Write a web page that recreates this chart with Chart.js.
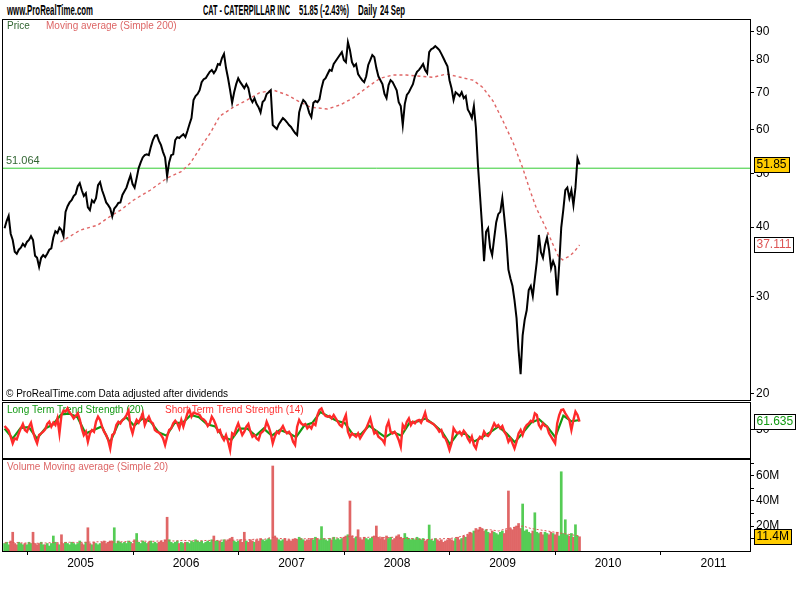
<!DOCTYPE html>
<html>
<head>
<meta charset="utf-8">
<script src="https://cdn.jsdelivr.net/npm/chart.js@4.4.0/dist/chart.umd.min.js"></script>
<style>
  body { margin: 0; background: #fff; }
  #page { position: relative; width: 800px; height: 600px; overflow: hidden; background: #fff; }
  canvas { position: absolute; left: 0; }
  .hd { position: absolute; top: 2px; font: bold 14px "Liberation Sans Narrow", "Liberation Sans", Arial, sans-serif;
        color: #000; white-space: pre; display: inline-block; transform-origin: 0 0; }
</style>
</head>
<body>
<div id="page">
  <span class="hd" style="left:7px" data-w="86">www.ProRealTime.com</span>
  <span class="hd" style="left:203px" data-w="87">CAT - CATERPILLAR INC</span>
  <span class="hd" style="left:299px" data-w="50">51.85 (-2.43%)</span>
  <span class="hd" style="left:358px" data-w="19">Daily</span>
  <span class="hd" style="left:380px" data-w="25">24 Sep</span>
  <canvas id="priceChart" width="800" height="402" style="top:0"></canvas>
  <canvas id="trendChart" width="800" height="62" style="top:400px"></canvas>
  <canvas id="volumeChart" width="800" height="145" style="top:455px"></canvas>
</div>
<script>
// ---- data (weekly readings, CAT, May 2004 - 24 Sep 2009) ----
var firstDay = 2004.28;
var lastDay = 2009.73;

var closePrices = [
  39.8, 41.0, 41.9, 38.9, 37.9, 36.1, 35.8, 36.4, 36.7, 37.3,
  36.9, 37.6, 37.9, 38.5, 37.9, 35.5, 35.2, 33.9, 35.2, 35.6,
  35.3, 35.8, 36.4, 36.6, 38.3, 39.3, 39.0, 39.9, 39.5, 38.5,
  42.6, 43.6, 44.3, 44.7, 45.5, 45.9, 47.4, 48.0, 46.6, 45.5,
  46.0, 43.4, 42.9, 44.7, 44.3, 45.1, 47.6, 48.2, 46.6, 45.5,
  44.3, 43.8, 43.2, 41.8, 43.2, 43.6, 44.2, 44.3, 45.7, 46.4,
  47.1, 48.4, 49.6, 47.8, 47.1, 49.0, 51.1, 52.3, 53.4, 53.9,
  54.1, 53.9, 55.8, 57.4, 58.4, 58.6, 57.2, 56.2, 54.6, 53.4,
  49.4, 52.3, 53.9, 54.1, 57.4, 58.1, 57.9, 58.4, 58.8, 58.1,
  59.6, 61.3, 62.9, 67.8, 68.9, 69.5, 70.6, 73.0, 73.9, 74.2,
  75.2, 76.2, 76.8, 75.8, 76.8, 78.7, 78.4, 80.7, 82.1, 77.4,
  74.2, 70.6, 67.0, 70.0, 72.4, 74.2, 73.0, 72.1, 71.2, 72.4,
  71.2, 68.3, 67.2, 68.3, 66.7, 65.8, 64.4, 67.2, 67.8, 69.5,
  70.0, 70.6, 61.1, 60.6, 60.1, 61.3, 62.1, 62.9, 62.4, 61.8,
  61.1, 60.6, 59.8, 59.1, 58.6, 64.4, 66.4, 67.8, 67.2, 66.1,
  64.2, 63.1, 67.0, 67.5, 67.2, 68.0, 71.2, 73.6, 74.2, 75.5,
  76.8, 76.5, 78.7, 79.7, 80.7, 81.7, 82.7, 80.0, 79.3, 86.2,
  83.4, 79.3, 78.0, 78.7, 75.5, 74.5, 73.6, 73.0, 74.8, 78.4,
  80.0, 81.7, 81.0, 77.4, 74.8, 73.6, 72.4, 69.5, 68.3, 72.1,
  73.6, 73.0, 71.8, 70.6, 67.2, 66.1, 61.1, 66.7, 69.2, 70.0,
  71.2, 72.4, 74.8, 76.2, 76.8, 77.7, 78.7, 76.8, 75.8, 82.7,
  83.7, 84.1, 84.8, 84.1, 83.4, 82.1, 80.7, 79.3, 78.0, 73.6,
  71.2, 67.8, 70.0, 69.5, 68.9, 70.0, 68.3, 68.9, 65.2, 64.2,
  62.9, 66.1, 60.4, 51.7, 45.7, 40.3, 34.7, 39.2, 39.8, 36.7,
  35.6, 38.2, 40.8, 42.2, 42.6, 45.1, 41.5, 37.9, 33.5, 32.3,
  31.3, 29.5, 27.4, 24.0, 21.7, 25.5, 27.2, 28.3, 30.8, 31.3,
  30.0, 32.3, 34.7, 38.7, 36.0, 35.2, 37.1, 38.3, 36.4, 33.7,
  34.7, 33.9, 30.1, 34.2, 39.9, 42.9, 46.6, 47.1, 45.1, 46.6,
  43.8, 47.1, 53.2, 51.85
];

// simple 200-day moving average, read at sparse dates
var maDates = [
  2004.81, 2005.00, 2005.16, 2005.28, 2005.38, 2005.50, 2005.66, 2005.82, 2005.95, 2006.04,
  2006.14, 2006.23, 2006.32, 2006.45, 2006.58, 2006.70, 2006.83, 2006.96, 2007.08, 2007.18,
  2007.34, 2007.46, 2007.58, 2007.72, 2007.84, 2007.96, 2008.09, 2008.22, 2008.34, 2008.47,
  2008.60, 2008.72, 2008.81, 2008.91, 2009.00, 2009.10, 2009.19, 2009.26, 2009.32, 2009.42,
  2009.47, 2009.53, 2009.57, 2009.64, 2009.68, 2009.73
];
var maValues = [
  37.6, 39.5, 40.3, 41.8, 42.9, 44.7, 46.6, 49.0, 50.3, 52.1,
  55.8, 59.1, 63.4, 65.8, 67.8, 69.9, 70.6, 69.2, 67.2, 65.8,
  65.3, 66.4, 68.3, 71.5, 74.2, 75.2, 75.2, 74.8, 74.5, 75.5,
  74.5, 73.6, 71.5, 67.5, 62.4, 56.8, 51.2, 46.6, 43.3, 39.5,
  37.5, 35.4, 34.9, 35.5, 36.1, 37.111
];

var refLevel = 51.064;

// short term trend strength (14), weekly readings
var shortTrend = [
  55.6, 52.3, 49.0, 40.6, 31.3, 38.3, 36.9, 45.3, 52.3, 58.4,
  50.0, 47.6, 54.6, 60.2, 47.6, 38.3, 31.3, 43.0, 45.3, 47.6,
  50.9, 58.4, 61.6, 54.6, 60.2, 57.0, 66.3, 45.3, 71.0, 77.1,
  75.7, 80.3, 74.3, 71.0, 66.3, 69.6, 73.3, 64.9, 52.3, 43.0,
  47.6, 33.6, 45.3, 50.0, 47.6, 61.6, 68.7, 64.0, 54.6, 47.6,
  43.0, 36.0, 24.3, 43.0, 45.3, 57.0, 61.6, 59.3, 64.0, 66.3,
  71.0, 77.1, 54.6, 45.3, 57.0, 64.0, 60.2, 66.3, 73.3, 57.0,
  64.0, 68.7, 61.6, 59.3, 50.0, 47.6, 46.2, 43.0, 38.3, 29.0,
  40.6, 50.0, 52.3, 59.3, 63.0, 59.3, 52.3, 64.0, 54.6, 64.0,
  73.3, 78.0, 68.7, 74.3, 73.3, 72.4, 71.0, 66.3, 64.9, 61.6,
  55.6, 59.3, 68.7, 64.0, 57.0, 47.6, 50.0, 40.6, 36.0, 43.0,
  33.6, 22.0, 45.3, 43.0, 52.3, 59.3, 50.9, 43.0, 47.6, 54.6,
  58.4, 47.6, 40.6, 43.0, 38.3, 36.0, 45.3, 47.6, 50.9, 61.6,
  54.6, 45.3, 31.3, 40.6, 47.6, 45.3, 50.9, 55.6, 49.0, 45.3,
  47.6, 43.0, 33.6, 29.0, 54.6, 64.0, 59.3, 57.0, 58.4, 52.3,
  55.6, 52.3, 59.3, 57.0, 71.0, 78.0, 80.3, 73.3, 69.6, 68.7,
  69.6, 66.3, 71.0, 66.3, 61.6, 57.0, 54.6, 64.0, 71.0, 47.6,
  40.6, 45.3, 43.0, 40.6, 45.3, 38.3, 43.0, 47.6, 52.3, 59.3,
  66.3, 54.6, 45.3, 47.6, 40.6, 38.3, 36.0, 31.3, 54.6, 61.6,
  47.6, 45.3, 47.6, 43.0, 36.0, 26.6, 57.0, 52.3, 61.6, 66.3,
  57.0, 61.6, 59.3, 63.0, 64.0, 60.2, 66.3, 74.3, 63.0, 61.6,
  60.2, 58.4, 55.6, 52.3, 47.6, 50.0, 40.6, 38.3, 31.3, 22.0,
  31.3, 52.3, 47.6, 45.3, 47.6, 43.0, 49.0, 45.3, 38.3, 33.6,
  40.6, 29.0, 24.3, 36.0, 40.6, 38.3, 47.6, 43.0, 41.6, 45.3,
  52.3, 59.3, 54.6, 57.0, 52.3, 55.6, 47.6, 43.0, 33.6, 38.3,
  31.3, 24.3, 33.6, 45.3, 50.0, 43.0, 52.3, 57.0, 59.3, 63.0,
  61.6, 73.3, 71.0, 57.0, 52.3, 59.3, 55.6, 54.6, 45.3, 40.6,
  36.0, 31.3, 59.3, 71.0, 78.0, 78.9, 73.3, 68.7, 64.0, 50.0,
  64.0, 75.7, 71.0, 61.635
];
// long term trend strength (20), four-weekly readings
var longTrend = [
  52, 38, 53, 54, 38, 52, 58, 72, 73, 68,
  45, 50, 55, 32, 58, 68, 56, 66, 62, 47,
  42, 60, 60, 71, 68, 58, 55, 40, 36, 52,
  52, 42, 52, 42, 50, 46, 40, 56, 60, 75,
  69, 63, 60, 44, 44, 56, 48, 40, 47, 42,
  60, 62, 66, 58, 48, 30, 46, 44, 34, 40,
  47, 55, 45, 33, 46, 60, 65, 55, 40, 70,
  62, 64
];

// volume in millions of shares (weekly readings) and its 20-day average
var volumes = [
  6, 7, 5, 8, 15, 6, 5, 7, 6, 5,
  6, 5, 7, 6, 15, 6, 5, 6, 7, 5,
  5, 6, 4, 6, 12, 7, 6, 5, 13, 6,
  7, 6, 5, 7, 6, 5, 6, 8, 6, 5,
  7, 18.6, 6, 5, 7, 6, 5, 6, 7, 8,
  6, 7, 8, 8, 18.6, 6, 8, 7, 6, 7,
  6, 8, 7, 6, 9, 14, 7, 6, 8, 7,
  6, 7, 8, 6, 7, 6, 7, 8, 7, 9,
  27, 9, 7, 6, 7, 8, 6, 7, 6, 7,
  7, 6, 8, 7, 9, 8, 7, 8, 6, 7,
  8, 7, 9, 12, 8, 8, 8, 7, 9, 8,
  9, 10, 11, 8, 7, 8, 9, 7, 15, 8,
  7, 9, 8, 7, 9, 8, 10, 9, 8, 9,
  10, 9, 68, 12, 10, 9, 8, 9, 10, 8,
  9, 8, 9, 10, 9, 11, 10, 9, 8, 9,
  9, 10, 9, 11, 10, 9, 19.5, 10, 9, 8,
  10, 9, 11, 9, 10, 9, 10, 11, 12, 13,
  40, 12, 10, 11, 17, 10, 9, 11, 10, 9,
  10, 11, 12, 20, 11, 10, 11, 9, 12, 10,
  11, 9, 10, 12, 13, 11, 10, 14, 11, 10,
  9, 10, 9, 11, 10, 9, 10, 8, 9, 20.8,
  9, 8, 10, 9, 8, 9, 7, 8, 9, 10,
  9, 8, 10, 11, 9, 10, 12, 11, 13, 15,
  14, 16, 18, 17, 19, 18, 16, 17, 15, 14,
  16, 15, 14, 13, 15, 16, 14, 17, 48, 18,
  17, 19, 20, 22, 18, 37.6, 16, 17, 15, 14,
  16, 30.6, 15, 14, 15, 13, 15, 14, 13, 15,
  14, 13, 15, 12, 63.4, 14, 25, 13, 12, 14,
  11, 21, 12, 11.4
];
var volumeAvg = [
  6.5, 6.8, 6.5, 6.3, 6.2, 6.4, 6.8, 6.5, 7.0, 6.8,
  7.0, 7.2, 7.5, 7.0, 7.2, 7.5, 7.8, 8.0, 7.6, 8.0,
  8.2, 8.0, 8.5, 8.2, 8.0, 8.5, 8.3, 8.8, 8.5, 9.0,
  8.8, 9.5, 9.2, 11, 10, 9.5, 9.2, 9.8, 10, 9.5,
  10, 10.5, 11, 12, 10.5, 11, 11.5, 10.5, 11, 10,
  10, 9.5, 9.0, 9.5, 9.8, 10, 11, 13, 15, 17,
  17, 16, 18, 19, 20, 18, 17, 16, 15, 14,
  13, 12
];

var yearTicks = [2005, 2006, 2007, 2008, 2009, 2010, 2011];
var priceTicks = [20, 30, 40, 50, 60, 70, 80, 90];
var trendTicks = [50];
var volumeTicks = [10, 20, 30, 40, 50, 60, 70];

// ---- helpers ----
var FONT = '"Liberation Sans", Arial, sans-serif';
Chart.defaults.font.family = FONT;
Chart.defaults.color = '#000';

var xMin = 2004.265, xMax = 2011.346;

// evenly spread reading dates between first and last day
function spread(n) {
    var out = [];
    for (var i = 0; i < n; i++) out.push(firstDay + (lastDay - firstDay) * i / (n - 1));
    return out;
}
function pairs(xs, ys) {
    return ys.map(function (v, i) { return { x: xs[i], y: v }; });
}

var weekDates = spread(closePrices.length);

// bar colour follows the week's price direction
var volumeColors = closePrices.map(function (p, i) {
    return (i > 0 && p < closePrices[i - 1]) ? '#e06666' : '#55cc55';
});

function hiddenX() {
    return { type: 'linear', min: xMin, max: xMax, display: false, offset: false };
}
function rightAxis(ticks, extra) {
    var ax = {
        position: 'right',
        afterBuildTicks: function (s) { s.ticks = ticks.map(function (v) { return { value: v }; }); },
        afterFit: function (s) { s.width = 50; s.paddingTop = 0; s.paddingBottom = 0; },
        ticks: { autoSkip: false, padding: 2, font: { size: 12 }, color: '#000',
                 callback: function (v) { return String(v); } },
        grid: { drawOnChartArea: false, tickLength: 4, color: '#000' },
        border: { color: '#000' }
    };
    for (var k in extra) ax[k] = extra[k];
    return ax;
}

function drawFrame(chart) {
    var ca = chart.chartArea, ctx = chart.ctx;
    ctx.save();
    ctx.strokeStyle = '#000';
    ctx.lineWidth = 1;
    ctx.strokeRect(Math.round(ca.left) - 0.5, Math.round(ca.top) - 0.5,
                   Math.round(ca.right - ca.left) + 1, Math.round(ca.bottom - ca.top) + 1);
    ctx.restore();
}
function tag(chart, text, value, bg, fg) {
    var ctx = chart.ctx, y = Math.round(chart.scales.y.getPixelForValue(value));
    ctx.save();
    ctx.font = '12px ' + FONT;
    var w = Math.ceil(ctx.measureText(text).width) + 4;
    ctx.fillStyle = bg;
    ctx.fillRect(754, y - 8, w, 15);
    ctx.strokeStyle = '#000';
    ctx.lineWidth = 1;
    ctx.strokeRect(754.5, y - 7.5, w, 15);
    ctx.fillStyle = fg;
    ctx.textBaseline = 'middle';
    ctx.fillText(text, 756.5, y);
    ctx.restore();
}
function label(ctx, text, x, y, color, size) {
    ctx.save();
    ctx.font = (size || 10) + 'px ' + FONT;
    ctx.fillStyle = color;
    ctx.textBaseline = 'middle';
    ctx.fillText(text, x, y);
    ctx.restore();
}

var baseOptions = function (padding) {
    return {
        responsive: false,
        animation: false,
        devicePixelRatio: 1,
        layout: { padding: padding },
        plugins: { legend: { display: false }, tooltip: { enabled: false } },
        elements: { point: { radius: 0 }, line: { tension: 0 } }
    };
};

// ---- price panel ----
var priceOpts = baseOptions({ left: 3, top: 20, right: 0, bottom: 2 });
priceOpts.scales = {
    x: hiddenX(),
    y: rightAxis(priceTicks, { type: 'logarithmic', min: 19.5, max: 94.5 })
};
new Chart(document.getElementById('priceChart'), {
    type: 'line',
    data: {
        datasets: [
            { data: pairs(weekDates, closePrices), borderColor: '#000', borderWidth: 2, order: 0 },
            { data: pairs(maDates, maValues), borderColor: '#e06666', borderWidth: 1.4, borderDash: [3, 3], order: 1 },
            { data: [{ x: xMin, y: refLevel }, { x: xMax, y: refLevel }], borderColor: '#33cc33', borderWidth: 1, order: 2 }
        ]
    },
    options: priceOpts,
    plugins: [{
        id: 'priceDecor',
        beforeDatasetsDraw: function (chart) {
            var ctx = chart.ctx, yRef = chart.scales.y.getPixelForValue(refLevel);
            label(ctx, 'Price', 7, 26, '#336633');
            label(ctx, 'Moving average (Simple 200)', 46, 26, '#dd6666');
            label(ctx, refLevel.toFixed(3), 6, yRef - 7, '#336633', 11);
            label(ctx, '\u00a9 ProRealTime.com Data adjusted after dividends', 6, 394, '#000');
        },
        afterDraw: function (chart) {
            drawFrame(chart);
            tag(chart, closePrices[closePrices.length - 1].toFixed(2), closePrices[closePrices.length - 1], '#ffcc00', '#000');
            tag(chart, maValues[maValues.length - 1].toFixed(3), maValues[maValues.length - 1], '#fff', '#dd5555');
        }
    }]
});

// ---- trend strength panel ----
var trendOpts = baseOptions({ left: 3, top: 3, right: 0, bottom: 4 });
trendOpts.scales = {
    x: hiddenX(),
    y: rightAxis(trendTicks, { type: 'linear', min: 10.8, max: 87.8 })
};
new Chart(document.getElementById('trendChart'), {
    type: 'line',
    data: {
        datasets: [
            { data: pairs(weekDates, shortTrend), borderColor: '#ff2a2a', borderWidth: 2.4, order: 0 },
            { data: pairs(spread(longTrend.length), longTrend), borderColor: '#119911', borderWidth: 2.2, order: 1 }
        ]
    },
    options: trendOpts,
    plugins: [{
        id: 'trendDecor',
        beforeDatasetsDraw: function (chart) {
            label(chart.ctx, 'Long Term Trend Strength (20)', 7, 10, '#119911');
            label(chart.ctx, 'Short Term Trend Strength (14)', 165, 10, '#ff3333');
        },
        afterDraw: function (chart) {
            drawFrame(chart);
            tag(chart, shortTrend[shortTrend.length - 1].toFixed(3), shortTrend[shortTrend.length - 1], '#fff', '#119911');
        }
    }]
});

// ---- volume panel ----
var volOpts = baseOptions({ left: 3, top: 5, right: 0, bottom: 29 });
volOpts.scales = {
    x: {
        type: 'linear', min: xMin, max: xMax, offset: false,
        afterBuildTicks: function (s) { s.ticks = yearTicks.map(function (v) { return { value: v }; }); },
        afterFit: function (s) { s.height = 20; s.paddingLeft = 0; s.paddingRight = 0; },
        ticks: { autoSkip: false, maxRotation: 0, padding: 1, font: { size: 12 }, color: '#000',
                 callback: function (v) { return String(v); } },
        grid: { drawOnChartArea: false, tickLength: 4, color: '#000' },
        border: { color: '#000' }
    },
    y: rightAxis(volumeTicks, { type: 'linear', min: 0, max: 72.8 })
};
volOpts.scales.y.ticks.callback = function (v) { return v % 20 === 0 ? v + 'M' : ''; };
new Chart(document.getElementById('volumeChart'), {
    type: 'bar',
    data: {
        datasets: [
            { type: 'bar', data: pairs(weekDates, volumes), backgroundColor: volumeColors,
              barPercentage: 1, categoryPercentage: 1, order: 1 },
            { type: 'line', data: pairs(spread(volumeAvg.length), volumeAvg), borderColor: '#dd5555',
              borderWidth: 1, borderDash: [2, 2], order: 0 }
        ]
    },
    options: volOpts,
    plugins: [{
        id: 'volDecor',
        beforeDatasetsDraw: function (chart) {
            label(chart.ctx, 'Volume Moving average (Simple 20)', 7, 12, '#dd6666');
        },
        afterDraw: function (chart) {
            drawFrame(chart);
            tag(chart, volumes[volumes.length - 1].toFixed(1) + 'M', volumes[volumes.length - 1], '#ffcc00', '#000');
        }
    }]
});

// squeeze header texts to the condensed widths of the original
document.querySelectorAll('.hd').forEach(function (el) {
    var target = +el.getAttribute('data-w');
    var w = el.getBoundingClientRect().width;
    if (w > 0) el.style.transform = 'scaleX(' + (target / w).toFixed(3) + ')';
});
</script>
</body>
</html>
